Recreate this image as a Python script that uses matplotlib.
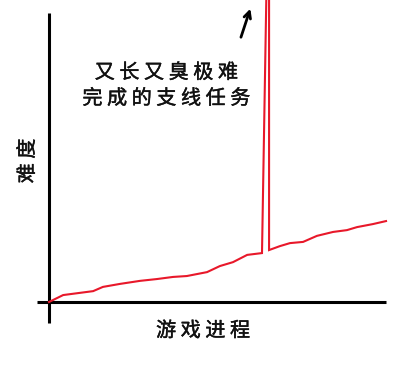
import matplotlib
matplotlib.use("Agg")
import matplotlib.pyplot as plt
import matplotlib.patheffects as pe

plt.rcParams['font.family'] = ['Noto Sans CJK SC', 'DejaVu Sans']

# Data (progress 0..100, difficulty 0..100)
progress = [0, 4.2, 13.1, 16.0, 21.1, 27.0, 32.0, 36.8, 40.9, 46.9, 50.7, 54.6, 58.8, 63.2,
            64.7, 65.3, 65.3, 68.5, 71.5, 75.4, 79.5, 84.3, 88.4, 91.4, 96.1, 100]
difficulty = [0, 2.3, 3.6, 5.0, 6.0, 7.0, 7.6, 8.3, 8.6, 9.9, 11.9, 13.2, 15.6, 16.2,
              115, 115, 17.2, 18.5, 19.5, 19.9, 21.9, 23.2, 23.8, 24.8, 25.8, 26.8]
annotation = "又 长 又 臭 极 难\n完 成 的 支 线 任 务"
xlabel = "游 戏 进 程"
ylabel = "难 度"

fig = plt.figure(figsize=(4.0, 3.66), dpi=100)
ax = fig.add_axes([0, 0, 1, 1])
ax.set_xlim(-14.54, 104.15)
ax.set_ylim(-21.19, 100)
ax.axis('off')

# axis lines
ax.plot([0, 0], [-6.95, 95.7], color='black', lw=2.2, solid_capstyle='butt')
ax.plot([-3.56, 100], [0, 0], color='black', lw=2.2, solid_capstyle='butt')

ax.plot(progress, difficulty, color='#e8182a', lw=1.5, solid_joinstyle='miter')

ax.annotate('', xy=(60.0, 98.0), xytext=(56.7, 86.8),
            arrowprops=dict(arrowstyle='->', color='black', lw=2.0,
                            mutation_scale=12))

fx = [pe.withStroke(linewidth=0.3, foreground='#111111')]
ax.text(34.8, 71.6, annotation, ha='center', va='center', fontsize=14.5,
        color='#111111', linespacing=1.3, path_effects=fx)
ax.text(45.7, -9.6, xlabel, ha='center', va='center', fontsize=14.5,
        color='#111111', path_effects=fx)
ax.text(-6.3, 46.7, ylabel, ha='center', va='center', fontsize=14.5,
        color='#111111', rotation=90, path_effects=fx)

fig.savefig('out.png', dpi=100)
